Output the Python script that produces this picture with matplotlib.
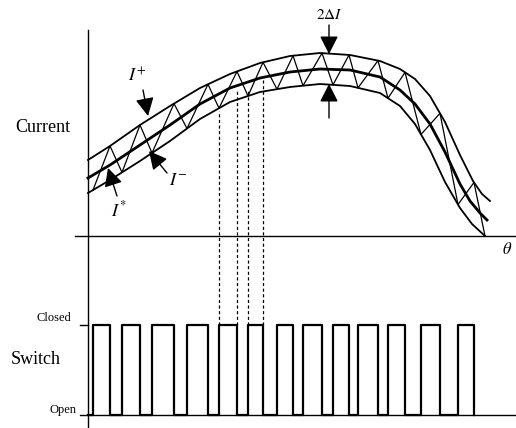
import numpy as np
import matplotlib
matplotlib.use("Agg")
import matplotlib.pyplot as plt

plt.rcParams["font.family"] = "Liberation Serif"
plt.rcParams["mathtext.fontset"] = "stix"

##### hysteresis band, theta / current in arbitrary units
upper_x = [0.00, 0.22, 0.52, 0.82, 1.12, 1.42, 1.72, 2.02, 2.32, 2.62, 2.92, 3.12, 3.27, 3.42, 3.57, 3.72, 3.85, 3.94, 4.02]
upper_y = [0.76, 0.90, 1.11, 1.30, 1.48, 1.62, 1.73, 1.80, 1.83, 1.81, 1.75, 1.67, 1.57, 1.40, 1.14, 0.81, 0.55, 0.42, 0.35]

ref_x = [0.00, 0.22, 0.52, 0.82, 1.12, 1.42, 1.72, 2.02, 2.32, 2.62, 2.92, 3.12, 3.27, 3.42, 3.57, 3.72, 3.82, 3.92, 3.99]
ref_y = [0.58, 0.71, 0.91, 1.11, 1.32, 1.48, 1.58, 1.64, 1.67, 1.66, 1.59, 1.46, 1.32, 1.12, 0.84, 0.52, 0.35, 0.23, 0.16]

lower_x = [0.00, 0.22, 0.52, 0.82, 1.12, 1.42, 1.72, 2.02, 2.32, 2.62, 2.92, 3.12, 3.27, 3.42, 3.57, 3.72, 3.84, 3.97]
lower_y = [0.43, 0.56, 0.75, 0.95, 1.17, 1.34, 1.44, 1.49, 1.52, 1.50, 1.43, 1.30, 1.12, 0.86, 0.54, 0.28, 0.12, 0.00]

##### switching instants (switch closes / opens)
close_t = [0.05, 0.34, 0.64, 0.99, 1.31, 1.60, 1.89, 2.15, 2.45, 2.70, 3.00, 3.33, 3.70]
open_t = [0.22, 0.52, 0.86, 1.20, 1.49, 1.75, 2.05, 2.34, 2.61, 2.90, 3.17, 3.52, 3.86]

closed_level = -0.89
open_level = -1.79

##### dashed guide lines: switching instants and where they meet the current trace
guide_t = [1.31, 1.49, 1.60, 1.75]
guide_top = [1.25, 1.45, 1.47, 1.56]

fig = plt.figure(figsize=(5.16, 4.28), dpi=100)
ax = fig.add_axes([0, 0, 1, 1])
ax.set_xlim(-0.88, 4.28)
ax.set_ylim(-1.92, 2.36)
ax.axis("off")

#### axes
ax.plot([0, 0], [-1.92, 2.06], color="black", lw=1.0)
ax.plot([-0.13, 4.28], [0, 0], color="black", lw=1.0)
ax.plot([-0.08, 4.28], [open_level, open_level], color="black", lw=1.0)
ax.plot([-0.08, 0], [closed_level, closed_level], color="black", lw=1.0)

#### band and reference
ax.plot(upper_x, upper_y, color="black", lw=1.3)
ax.plot(ref_x, ref_y, color="black", lw=2.0)
ax.plot(lower_x, lower_y, color="black", lw=1.3)

#### actual current: bounces between the band limits
edges = np.sort(np.concatenate([close_t, open_t]))
zig_y = [np.interp(t, upper_x, upper_y) if t in open_t else np.interp(t, lower_x, lower_y) for t in edges]
zig_x = list(edges) + [lower_x[-1]]
zig_y = zig_y + [lower_y[-1]]
ax.plot(zig_x, zig_y, color="black", lw=0.9)

#### switch state
sw_t = [0.0]
sw_s = [0]
for c, o in zip(close_t, open_t):
    sw_t += [c, o]
    sw_s += [1, 0]
sw_y = open_level + np.array(sw_s) * (closed_level - open_level)
ax.plot(sw_t, sw_y, color="black", lw=1.6, drawstyle="steps-post")

for t, top in zip(guide_t, guide_top):
    ax.plot([t, t], [closed_level, top], color="black", lw=0.9, linestyle=(0, (2.5, 2)))

#### labels
ax.text(-0.45, 1.08, "Current", fontsize=13, ha="center", va="center")
ax.text(-0.52, -1.24, "Switch", fontsize=13, ha="center", va="center")
ax.text(-0.17, closed_level + 0.07, "Closed", fontsize=9, ha="right", va="center")
ax.text(-0.12, open_level + 0.05, "Open", fontsize=9, ha="right", va="center")
ax.text(4.19, -0.14, r"$\theta$", fontsize=12, ha="center", va="center")

arrow = dict(arrowstyle="-|>,head_length=0.55,head_width=0.28", color="black",
             lw=1.0, mutation_scale=20, shrinkA=0, shrinkB=0)
ax.annotate("", xy=(0.60, 1.20), xytext=(0.55, 1.46), arrowprops=arrow)
ax.text(0.49, 1.60, r"$I^{+}$", fontsize=13, ha="center", va="center")
ax.annotate("", xy=(0.61, 0.85), xytext=(0.79, 0.63), arrowprops=arrow)
ax.text(0.90, 0.55, r"$I^{-}$", fontsize=13, ha="center", va="center")
ax.annotate("", xy=(0.20, 0.68), xytext=(0.29, 0.40), arrowprops=arrow)
ax.text(0.31, 0.26, r"$I^{*}$", fontsize=13, ha="center", va="center")

ax.annotate("", xy=(2.41, 1.82), xytext=(2.41, 2.11), arrowprops=arrow)
ax.annotate("", xy=(2.41, 1.52), xytext=(2.41, 1.18), arrowprops=arrow)
ax.text(2.41, 2.21, r"$2\Delta I$", fontsize=11, ha="center", va="center")

fig.savefig("out.png", dpi=100, facecolor="white")
